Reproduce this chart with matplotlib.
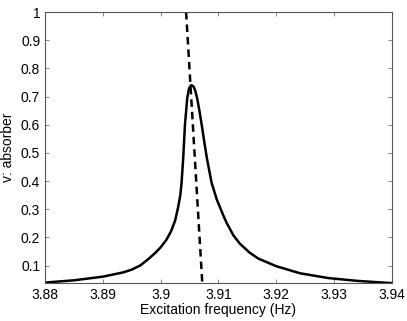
import matplotlib
matplotlib.use("Agg")
import matplotlib.pyplot as plt

plt.rcParams['font.family'] = ['Liberation Sans', 'DejaVu Sans']

# resonance curve
freq = [3.8800, 3.8850, 3.8900, 3.8935, 3.8950, 3.8965, 3.8979, 3.8990,
        3.9000, 3.9010, 3.9018, 3.9025, 3.9030, 3.9034, 3.9036, 3.9039,
        3.9042, 3.9046, 3.9049, 3.9052, 3.9054, 3.9057, 3.9060, 3.9063,
        3.9067, 3.9071, 3.9075, 3.9080, 3.9088, 3.9097, 3.9108, 3.9114,
        3.9126, 3.9137, 3.9154, 3.9169, 3.9200, 3.9241, 3.9290, 3.9340,
        3.9400]
amp = [0.040, 0.048, 0.061, 0.076, 0.086, 0.101, 0.124, 0.144,
       0.165, 0.192, 0.222, 0.260, 0.305, 0.350, 0.390, 0.481,
       0.600, 0.695, 0.728, 0.739, 0.740, 0.735, 0.720, 0.695,
       0.650, 0.600, 0.545, 0.481, 0.395, 0.335, 0.280, 0.252,
       0.207, 0.178, 0.146, 0.125, 0.098, 0.073, 0.056, 0.046,
       0.038]

# dashed backbone line
dash_x = [3.9044, 3.9072]
dash_y = [1.0, 0.0385]

xticks = [3.88, 3.89, 3.90, 3.91, 3.92, 3.93, 3.94]
xlabels = ["3.88", "3.89", "3.9", "3.91", "3.92", "3.93", "3.94"]
yticks = [0.1, 0.2, 0.3, 0.4, 0.5, 0.6, 0.7, 0.8, 0.9, 1.0]
ylabels = ["0.1", "0.2", "0.3", "0.4", "0.5", "0.6", "0.7", "0.8", "0.9", "1"]

fig = plt.figure(figsize=(4.07, 3.21), dpi=100)
ax = fig.add_axes([0.1106, 0.1184, 0.8524, 0.8442])

ax.plot(freq, amp, color="k", lw=1.8, solid_joinstyle="round")
ax.plot(dash_x, dash_y, color="k", lw=1.8, linestyle=(0, (3, 2)))

ax.set_xlim(3.88, 3.94)
ax.set_ylim(0.0385, 1.0)
ax.set_xticks(xticks)
ax.set_xticklabels(xlabels)
ax.set_yticks(yticks)
ax.set_yticklabels(ylabels)
ax.tick_params(direction="in", top=True, right=True, labelsize=10,
               length=3, width=0.5, color="#555555")
for s in ax.spines.values():
    s.set_linewidth(0.8)
    s.set_color("#555555")
ax.set_xlabel("Excitation frequency (Hz)", fontsize=10, labelpad=1)
ax.set_ylabel("v: absorber", fontsize=10, labelpad=4)

fig.savefig("out.png", dpi=100)
